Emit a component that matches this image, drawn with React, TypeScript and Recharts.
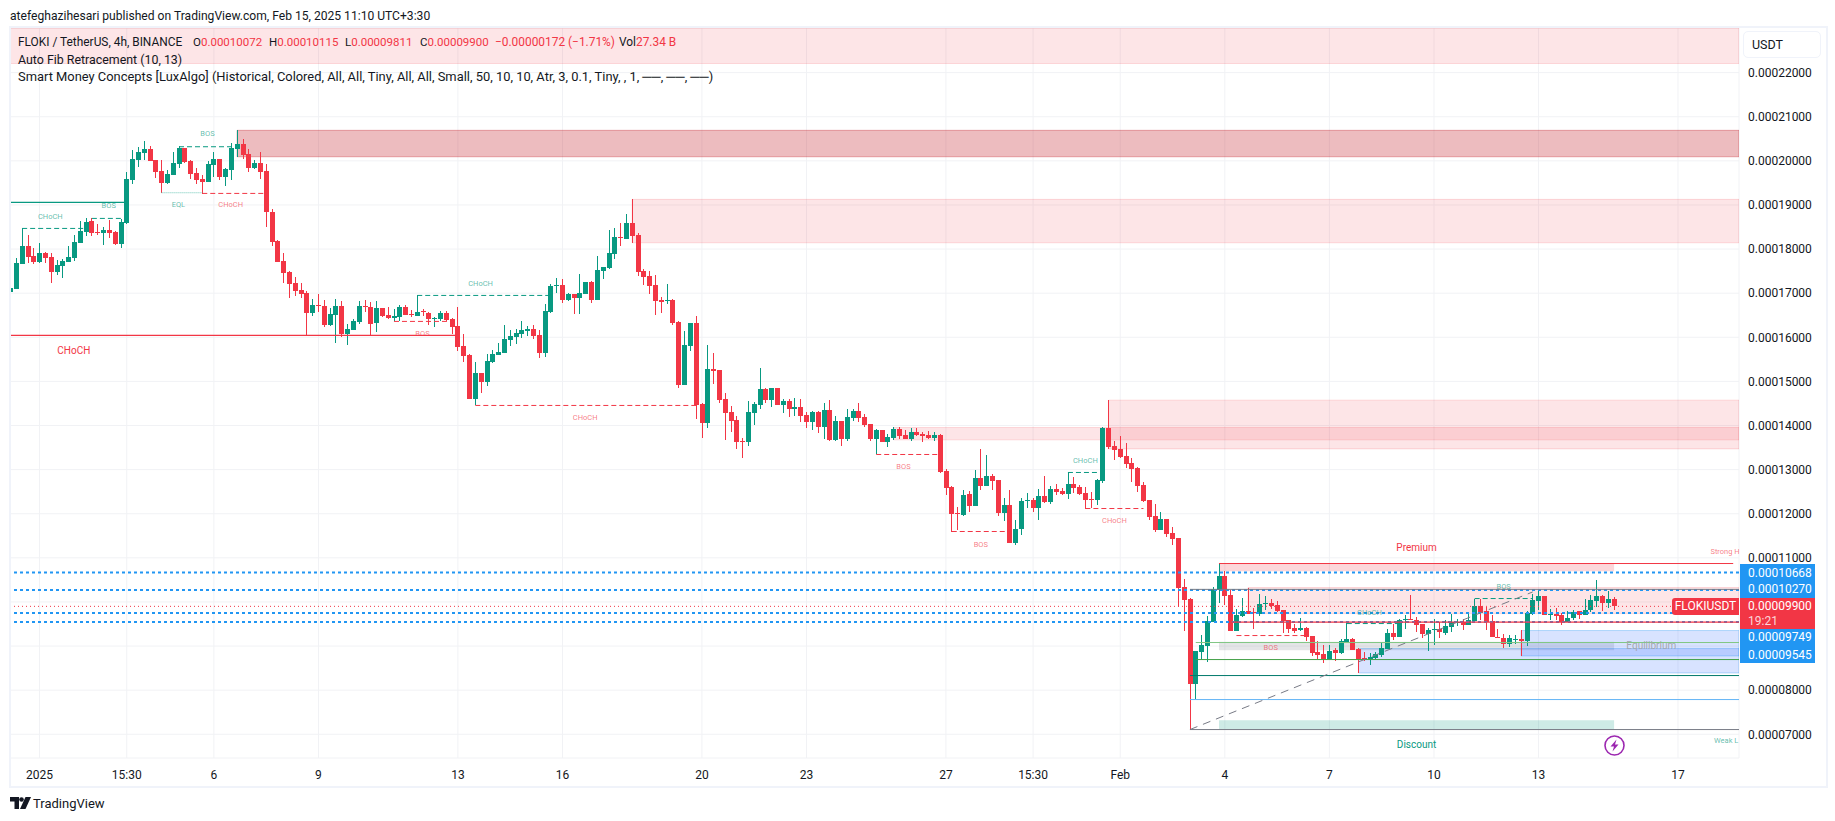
import { ComposedChart, Bar, XAxis, YAxis, CartesianGrid, ReferenceArea, ReferenceLine, ReferenceDot } from "recharts";

// prices are in units of 0.00000001 USDT
const opens = [
  17024,17092,17659,18068,17841,17705,17909,17818,17478,17614,
  17705,17795,18136,18385,18634,18385,18362,18430,18385,18113,
  18589,19564,20018,20177,20267,20018,19769,19496,19678,19927,
  20290,19995,19723,19587,19519,19905,20041,19632,19791,20267,
  20381,20154,19837,19950,19769,18839,18181,17727,17478,17228,
  17070,17002,16549,16730,16708,16277,16503,16708,16072,16163,
  16345,16708,16685,16322,16662,16503,16435,16458,16685,16526,
  16481,16594,16549,16413,16413,16549,16413,16254,15800,15596,
  14598,15188,14984,15437,15596,15642,15936,16004,16072,16141,
  16186,16050,15642,16571,17161,17184,16844,16980,16889,16980,
  17252,16844,17501,17569,17887,18272,18227,18590,18317,17501,
  17388,17183,16843,16820,16843,16344,14915,15800,16322,14485,
  14054,15278,15256,14598,14303,14122,13645,13623,14280,14462,
  14825,14575,14847,14462,14553,14371,14416,14235,14076,14303,
  13963,14348,13668,14099,13691,14167,14326,14190,14031,13691,
  13895,13623,13713,13918,13782,13691,13850,13804,13782,13713,
  13781,12965,12602,12012,11967,12443,12171,12806,12625,12852,
  12761,12012,12194,11332,11649,12284,12307,12126,12398,12262,
  12557,12511,12443,12670,12602,12466,12330,12307,12738,13940,
  13532,13464,13305,13146,13033,12647,12307,11944,11627,11876,
  11559,11445,10334,10062,8134,8860,8996,9540,10266,10584,
  10153,9336,9677,9790,9767,9722,9949,9971,9926,9813,
  9586,9404,9359,9404,9223,8860,8815,8701,8906,8837,
  9087,9155,8928,8724,8701,8724,8792,8928,9291,9200,
  9586,9609,9586,9495,9268,9359,9382,9291,9427,9530,
  9548,9473,9563,9903,9790,9563,9208,9193,9049,9148,
  9170,9110,9722,10017,10130,9715,9737,9699,9548,9639,
  9790,9699,9813,10017,10130,9971,10072,
];
const highs = [
  17410,17795,18468,18317,18022,18136,17931,17909,17750,17773,
  18068,18317,18634,18703,18695,18566,18498,18657,18408,18680,
  19746,20245,20313,20449,20336,20018,20018,19791,20199,20336,
  20290,20018,19837,19678,19995,20199,20041,19837,20404,20698,
  20494,20267,20018,20199,19927,18907,18204,17909,17500,17364,
  17229,17048,16866,16980,16844,16662,16866,16821,16299,16413,
  16821,16844,16798,16821,16662,16685,16639,16730,16730,16617,
  16957,16639,16571,16458,16594,16594,16435,16685,16072,15619,
  15437,15188,15619,15710,15868,16277,16163,16186,16367,16254,
  16277,16163,16753,17206,17342,17320,17002,16980,17433,17252,
  17275,17842,17592,18431,18477,18590,18794,19134,18363,17546,
  17501,17410,16911,17206,16866,16367,16140,16322,16480,14507,
  15823,15641,15256,14734,14439,14212,13713,14552,14530,15301,
  14847,14847,14847,14598,14598,14620,14598,14303,14326,14326,
  14507,14575,14212,14099,14371,14371,14507,14258,14031,13918,
  13895,13804,13963,13963,13895,13940,13940,13850,13872,13850,
  13804,13010,12625,12148,12534,12511,12988,13464,13328,12897,
  12761,12353,12534,11854,12353,12466,12353,12557,12852,12625,
  12670,12579,12935,12829,12647,12602,12489,12783,13963,14575,
  13645,13759,13600,13260,13056,12715,12307,12216,12035,11876,
  11695,11445,10515,10085,8883,9246,9677,10334,10879,10697,
  10266,9835,10085,10327,9858,10175,10130,10062,10017,9813,
  9586,9495,9631,9427,9223,9109,9019,9019,8951,9155,
  9518,9178,8951,8860,8838,8860,9087,9382,9495,9608,
  9699,10153,9660,9495,9400,9609,9540,9586,9722,9624,
  9624,9775,10077,10077,9888,9700,9397,9268,9246,9246,
  9359,9798,10176,10282,10130,9835,9866,9752,9790,9813,
  9798,10077,10153,10493,10153,10244,10115,
];
const lows = [
  16896,17092,17659,17682,17659,17682,17682,17228,17410,17342,
  17705,17727,18136,18294,18294,18317,18090,18249,18090,18022,
  18566,19474,19859,20018,19995,19610,19270,19474,19678,19837,
  19950,19587,19474,19254,19519,19632,19564,19428,19564,20086,
  20041,19746,19814,19587,18498,18068,17705,17228,16888,16934,
  16889,16042,16481,16571,16231,16254,15868,16004,15823,16163,
  16299,16571,16042,16118,16458,16413,16367,16367,16503,16458,
  16481,16481,16277,16231,16367,16367,16072,15687,15437,14598,
  14455,14734,14893,15415,15596,15642,15800,15846,15982,16027,
  15959,15528,15551,16549,17002,16776,16821,16526,16526,16980,
  16776,16844,17320,17547,17773,18068,18227,18136,17388,17183,
  16979,16503,16548,16752,16276,14847,14915,15687,14144,13713,
  13940,14938,14507,13668,13849,13464,13260,13532,14008,14371,
  14507,14416,14462,14280,14190,14212,14076,13940,13895,13827,
  13691,13645,13645,13532,13645,14099,14076,13963,13645,13343,
  13623,13509,13668,13691,13691,13645,13759,13623,13691,13645,
  12920,12421,11597,11627,11944,12035,12171,12534,12625,12534,
  11944,11831,11332,11287,11513,12126,12035,11854,12239,12216,
  12421,12421,12330,12466,12421,12118,12126,12194,12693,13464,
  13214,13260,13033,12715,12489,12262,11854,11581,11627,11468,
  11287,9888,9336,7114,7794,8679,8633,9540,9971,9926,
  9336,9336,9654,9737,9382,9677,9813,9835,9767,9291,
  9291,9291,9336,9109,8769,8701,8611,8701,8671,8815,
  9087,8906,8391,8656,8565,8701,8747,8928,9132,9200,
  9397,9586,9314,9180,8883,9019,9178,9246,9314,9450,
  9359,9473,9563,9586,9359,9208,9185,8958,8981,9057,
  8770,9011,9700,9828,9707,9601,9586,9473,9548,9601,
  9609,9699,9775,9888,9790,9866,9811,
];
const closes = [
  17115,17682,18068,17818,17705,17909,17795,17478,17637,17727,
  17818,18158,18408,18612,18362,18362,18430,18362,18113,18612,
  19587,20041,20199,20267,19995,19746,19496,19700,19950,20290,
  19973,19700,19564,19519,19927,20041,19632,19814,20290,20381,
  20131,19837,19950,19746,18839,18158,17705,17455,17206,17047,
  16980,16549,16730,16708,16277,16526,16708,16072,16186,16367,
  16708,16685,16299,16662,16481,16435,16481,16685,16503,16503,
  16571,16571,16413,16435,16549,16390,16231,15778,15574,14598,
  15188,14984,15460,15619,15664,15959,16027,16095,16163,16186,
  16027,15642,16594,17161,17184,16844,16980,16889,17002,17252,
  16844,17524,17592,17910,18272,18250,18590,18295,17478,17365,
  17161,16820,16798,16843,16322,14915,15823,16322,14454,14054,
  15278,15233,14575,14280,14099,13623,13623,14303,14485,14825,
  14575,14847,14462,14553,14371,14416,14212,14076,14303,13963,
  14348,13668,14099,13691,14190,14326,14167,14008,13691,13895,
  13623,13736,13918,13759,13691,13850,13782,13759,13713,13782,
  12942,12579,11990,11990,12421,12171,12806,12625,12852,12738,
  12012,12194,11332,11649,12284,12307,12126,12398,12262,12557,
  12489,12443,12670,12579,12443,12307,12307,12761,13940,13509,
  13441,13282,13124,13010,12625,12284,11922,11627,11876,11536,
  11423,10311,10039,8134,8883,9019,9563,10289,10584,10130,
  9336,9699,9790,9737,9745,9949,9971,9903,9790,9563,
  9382,9336,9404,9200,8837,8792,8701,8883,8837,9109,
  9155,8906,8701,8701,8747,8815,8951,9291,9200,9586,
  9609,9586,9473,9268,9359,9382,9314,9450,9541,9550,
  9473,9586,9903,9760,9541,9208,9185,9057,9178,9170,
  9110,9752,10040,10130,9707,9737,9684,9548,9646,9775,
  9707,9828,10040,10130,9987,10062,9900,
];

const priceTicks = [7000,8000,9000,10000,11000,12000,13000,14000,15000,16000,17000,18000,19000,20000,21000,22000];
// these two sit behind the price tags on the axis
const hiddenTicks = [9000, 10000];
const timeTicks = [5,20,35,53,77,95,119,137,161,176,191,209,227,245,263,287];
const timeLabels = ["2025","15:30","6","9","13","16","20","23","27","15:30","Feb","4","7","10","13","17"];

const GREEN = "#089981";
const RED = "#f23645";
const LAST = 297.5;
const PINK = "rgba(242,54,69,0.13)";
const PINK_EDGE = "rgba(242,54,69,0.16)";

// from bar, to bar, top price, bottom price, fill, edge
const zones: [number, number, number, number, string, string][] = [
  [-0.09, LAST, 23012, 22207, PINK, PINK_EDGE],
  [39, LAST, 20692, 20093, "rgba(195,32,42,0.3)", "rgba(195,32,42,0.35)"],
  [107, LAST, 19127, 18143, PINK, PINK_EDGE],
  [152, LAST, 13955, 13675, PINK, PINK_EDGE],
  [189, LAST, 14575, 13470, PINK, PINK_EDGE],
  [208, 276, 10871, 10697, "rgba(242,54,69,0.2)", "none"],
  [213, LAST, 10327, 9736, PINK, PINK_EDGE],
  [208, 276, 9100, 8905, "rgba(120,123,134,0.2)", "none"],
  [208, 276, 7318, 7114, "rgba(8,153,129,0.2)", "none"],
  [232, LAST, 8943, 8390, "rgba(41,98,255,0.18)", "rgba(33,150,243,0.3)"],
  [260, LAST, 9352, 8776, "rgba(41,98,255,0.18)", "rgba(33,150,243,0.3)"],
];

// from bar, to bar, price, colour, width, dash
const levels: [number, number, number, string, number, string | undefined][] = [
  [-0.09, 20, 19058, GREEN, 1.25, undefined],
  [2, 12.6, 18468, GREEN, 1, "5 3"],
  [14, 19, 18695, GREEN, 1, "5 3"],
  [26, 33, 19277, "#6cc7b6", 1, "1 1"],
  [33, 44, 19262, RED, 1, "5 3"],
  [29, 39, 20320, GREEN, 1, "5 3"],
  [-0.09, 77, 16042, RED, 1.25, undefined],
  [66, 76, 16360, RED, 1, "5 3"],
  [70, 93, 16949, GREEN, 1, "5 3"],
  [80, 118, 14455, RED, 1, "5 3"],
  [149, 160, 13343, RED, 1, "5 3"],
  [162, 172, 11597, RED, 1, "5 3"],
  [182, 187, 12935, GREEN, 1, "5 3"],
  [185, 195, 12118, RED, 1, "5 3"],
  [211, 223, 9238, RED, 1, "5 3"],
  [230, 239, 9510, GREEN, 1, "5 3"],
  [252, 262, 10077, GREEN, 1, "5 3"],
  [208, 296.5, 10871, RED, 1, undefined],
  [210, LAST, 9540, RED, 1.25, undefined],
  [204, LAST, 9080, "#81c784", 1, undefined],
  [204, LAST, 8694, "#43a047", 1, undefined],
  [203, LAST, 8331, "#00796b", 1, undefined],
  [203, LAST, 7787, "#64b5f6", 1, undefined],
  [203, LAST, 7107, "#787b86", 1, undefined],
  [203, LAST, 10285, "#787b86", 1, undefined],
];

const fibLevels = [10668, 10270, 9749, 9545];
const lastClose = 9900;

// text, bar, price, colour, size
const marks: [string, number, number, string, number][] = [
  ["CHoCH", 6.85, 18732, GREEN, 7.5],
  ["BOS", 16.9, 18982, GREEN, 7.5],
  ["EQL", 28.9, 19005, GREEN, 7.5],
  ["CHoCH", 37.9, 19005, RED, 7.5],
  ["BOS", 33.9, 20615, GREEN, 7.5],
  ["BOS", 70.9, 16088, RED, 7.5],
  ["CHoCH", 80.9, 17222, GREEN, 7.5],
  ["CHoCH", 98.9, 14196, RED, 7.5],
  ["BOS", 153.7, 13085, RED, 7.5],
  ["BOS", 167, 11316, RED, 7.5],
  ["CHoCH", 185, 13221, GREEN, 7.5],
  ["CHoCH", 190, 11860, RED, 7.5],
  ["BOS", 216.9, 8966, RED, 7.5],
  ["CHoCH", 233.9, 9774, GREEN, 7.5],
  ["BOS", 257, 10364, GREEN, 7.5],
  ["CHoCH", 10.9, 15693, RED, 10],
  ["Premium", 242, 11225, RED, 10],
  ["Discount", 242, 6780, GREEN, 10],
  ["Equilibrium", 282.4, 9003, "#a3a6af", 10],
  ["Strong H", 295.1, 11157, RED, 7.5],
  ["Weak L", 295.3, 6864, GREEN, 7.5],
];

const candles = opens.map((open, i) => ({ i, open, high: highs[i], low: lows[i], close: closes[i] }));

function fmtPrice(v: number) {
  return (v / 1e8).toFixed(8);
}

function fmtTick(v: number) {
  return hiddenTicks.includes(v) ? "" : fmtPrice(v);
}

function fmtTime(v: number) {
  return timeLabels[timeTicks.indexOf(v)] ?? "";
}

function Candle(props: any) {
  const { x, y, width, height, payload } = props;
  const { open, high, low, close } = payload;
  const top = Math.min(y, y + height);
  const ppu = Math.abs(height) / (high - low);
  const color = close >= open ? GREEN : RED;
  const bodyTop = top + (high - Math.max(open, close)) * ppu;
  const bodyH = Math.max(1, Math.abs(open - close) * ppu);
  const cx = Math.round(x + width / 2);
  return (
    <g shapeRendering="crispEdges">
      <rect x={cx} y={top} width={1} height={Math.abs(height)} fill={color} />
      <rect x={cx - 2} y={bodyTop} width={5} height={bodyH} fill={color} />
    </g>
  );
}

const font = "Roboto, sans-serif";
const abs = (left: number, top: number, extra: any = {}) => ({
  position: "absolute" as const,
  left,
  top,
  whiteSpace: "pre" as const,
  ...extra,
});

function Tag({ top, height, bg, lines }: { top: number; height: number; bg: string; lines: [string, number, string?][] }) {
  return (
    <>
      <div style={abs(1740, top, { width: 75, height, background: bg })} />
      {lines.map(([t, y, c]) => (
        <div key={t} style={abs(1748, y - 8, { color: c ?? "#fff", fontSize: 12, lineHeight: "16px" })}>
          {t}
        </div>
      ))}
    </>
  );
}

export default function App() {
  return (
    <div style={{ position: "absolute", left: 0, top: 0, width: 1835, height: 821, background: "#fff", overflow: "hidden", fontFamily: font, color: "#131722" }}>
      <ComposedChart
        width={1835}
        height={821}
        data={candles}
        margin={{ top: 28, right: 10, left: 10, bottom: 35 }}
        style={{ position: "absolute", left: 0, top: 0 }}
      >
        <CartesianGrid stroke="#f1f2f5" />
        <XAxis
          dataKey="i"
          type="number"
          domain={[-0.09, LAST]}
          allowDataOverflow
          ticks={timeTicks}
          interval={0}
          tickFormatter={fmtTime}
          tick={{ fill: "#131722", fontSize: 12, fontFamily: font }}
          axisLine={false}
          tickLine={false}
          height={28}
          tickMargin={6}
        />
        <YAxis
          orientation="right"
          type="number"
          domain={[6462, 23012]}
          allowDataOverflow
          ticks={priceTicks}
          interval={0}
          tickFormatter={fmtTick}
          tick={{ fill: "#131722", fontSize: 12, fontFamily: font }}
          axisLine={false}
          tickLine={false}
          tickSize={0}
          tickMargin={9}
          width={86}
        />
        {zones.map(([x1, x2, y1, y2, fill, edge], n) => (
          <ReferenceArea key={`z${n}`} x1={x1} x2={x2} y1={y1} y2={y2} fill={fill} fillOpacity={1} stroke={edge} ifOverflow="hidden" />
        ))}
        {fibLevels.map((p) => (
          <ReferenceLine key={p} y={p} stroke="#2196f3" strokeWidth={2} strokeDasharray="3 3" />
        ))}
        <ReferenceLine y={lastClose} stroke={RED} strokeWidth={1} strokeDasharray="1 3" />
        <Bar dataKey={(d: any) => [d.low, d.high]} barSize={5} shape={Candle} isAnimationActive={false} />
        {levels.map(([x1, x2, y, color, w, dash], n) => (
          <ReferenceLine
            key={`l${n}`}
            segment={[{ x: x1, y }, { x: x2, y }]}
            stroke={color}
            strokeWidth={w}
            strokeDasharray={dash}
          />
        ))}
        <ReferenceLine
          segment={[{ x: 203, y: 7107 }, { x: 262, y: 10227 }]}
          stroke="#787b86"
          strokeWidth={1}
          strokeDasharray="8 6"
        />
        {marks.map(([text, x, y, color, size], n) => (
          <ReferenceDot
            key={`m${n}`}
            x={x}
            y={y}
            r={0}
            stroke="none"
            label={{ value: text, position: "center", fill: color, fontSize: size, fontFamily: font, fillOpacity: size < 9 ? 0.65 : 1 }}
          />
        ))}
      </ComposedChart>

      <div style={abs(9, 26, { width: 1815, height: 758, border: "2px solid #f0f3fa", pointerEvents: "none" })} />
      <div style={abs(10, 8, { fontSize: 12.1, lineHeight: "16px" })}>atefeghazihesari published on TradingView.com, Feb 15, 2025 11:10 UTC+3:30</div>

      <div style={abs(18, 34, { fontSize: 11.9, lineHeight: "16px" })}>FLOKI / TetherUS, 4h, BINANCE</div>
      {[
        ["O", "0.00010072", 193],
        ["H", "0.00010115", 269],
        ["L", "0.00009811", 345],
        ["C", "0.00009900", 420],
      ].map(([k, v, x]) => (
        <div key={k as string} style={abs(x as number, 34, { fontSize: 11.5, lineHeight: "16px" })}>
          {k}
          <span style={{ color: RED }}>{v}</span>
        </div>
      ))}
      <div style={abs(495, 34, { fontSize: 11.9, lineHeight: "16px", color: RED })}>−0.00000172 (−1.71%)</div>
      <div style={abs(619, 34, { fontSize: 11.9, lineHeight: "16px" })}>
        Vol<span style={{ color: RED }}>27.34 B</span>
      </div>
      <div style={abs(18, 52, { fontSize: 12.4, lineHeight: "16px" })}>Auto Fib Retracement (10, 13)</div>
      <div style={abs(18, 69, { fontSize: 12.9, lineHeight: "16px" })}>
        Smart Money Concepts [LuxAlgo] (Historical, Colored, All, All, Tiny, All, All, Small, 50, 10, 10, Atr, 3, 0.1, Tiny, , 1, ──, ──, ──)
      </div>

      <div style={abs(1743, 31, { width: 68, height: 25, border: "1px solid #f0f3fa", borderRadius: 5, fontSize: 12.5, lineHeight: "25px", paddingLeft: 8 })}>USDT</div>

      <Tag top={564} height={34} bg="#2196f3" lines={[[fmtPrice(10668), 573], [fmtPrice(10270), 589]]} />
      <Tag top={598} height={31} bg={RED} lines={[[fmtPrice(lastClose), 606], ["19:21", 621, "#fcd5d9"]]} />
      <Tag top={629} height={34} bg="#2196f3" lines={[[fmtPrice(9749), 637], [fmtPrice(9545), 655]]} />
      <div style={abs(1672, 598, { width: 67, height: 17, background: RED, color: "#fff", fontSize: 12, lineHeight: "17px", textAlign: "center", borderRadius: "3px 0 0 3px" })}>FLOKIUSDT</div>

      <svg style={abs(1603, 734)} width={23} height={23} viewBox="0 0 23 23">
        <circle cx={11.5} cy={11.5} r={9.5} fill="#fff" stroke="#9c27b0" strokeWidth={1.6} />
        <path d="M13.5 5.5 L7.5 12.5 H11 L9.5 17.5 L15.5 10.5 H12 Z" fill="#9c27b0" />
      </svg>

      <svg style={abs(10, 797)} width={21} height={13} viewBox="0 0 21 13">
        <path d="M0 0 H9 V12 H4.5 V4.5 H0 Z" fill="#131722" />
        <circle cx={11.5} cy={2.5} r={2.3} fill="#131722" />
        <path d="M15.5 0 H21 L15.5 12 H10 Z" fill="#131722" />
      </svg>
      <div style={abs(33, 796, { fontSize: 13, lineHeight: "16px" })}>TradingView</div>
    </div>
  );
}
